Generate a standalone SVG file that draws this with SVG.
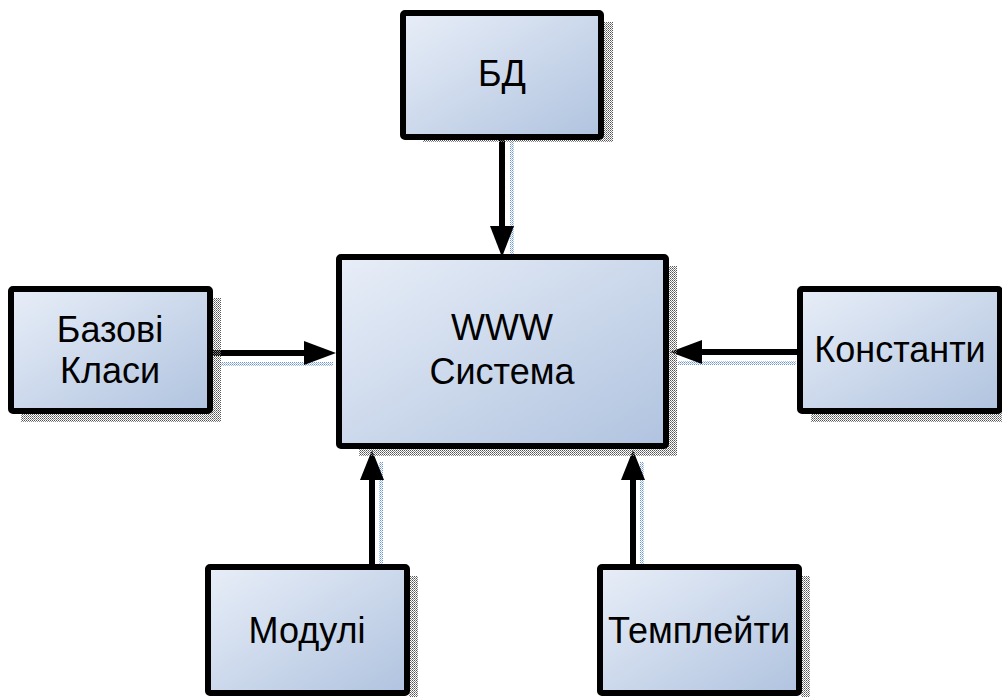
<svg xmlns="http://www.w3.org/2000/svg" width="1002" height="697" viewBox="0 0 1002 697">
<defs>
<linearGradient id="g" x1="0" y1="0" x2="1" y2="1">
<stop offset="0" stop-color="#e8eef8"/>
<stop offset="1" stop-color="#b0c3df"/>
</linearGradient>
<pattern id="dots" width="2" height="2" patternUnits="userSpaceOnUse">
<rect width="1" height="1" fill="#555"/>
<rect x="1" y="1" width="1" height="1" fill="#888"/>
</pattern>
<pattern id="bdots" width="2" height="2" patternUnits="userSpaceOnUse">
<rect width="1" height="1" fill="#6f96d2"/>
<rect x="1" y="1" width="1" height="1" fill="#a9c1e6"/>
</pattern>
</defs>
<style>
.box{fill:url(#g);stroke:#000;stroke-width:6;stroke-linejoin:round}
.sh{fill:url(#dots)}
.bsh{fill:url(#bdots)}
.lbl{font-family:"Liberation Sans",Arial,sans-serif;font-size:36px;fill:#000;text-anchor:middle}
.ln{stroke:#000;stroke-width:6;fill:none}
</style>
<g id="connectors">
<rect class="bsh" x="510" y="140" width="4" height="125"/>
<rect class="bsh" x="215" y="362" width="118" height="4"/>
<rect class="bsh" x="678" y="361" width="118" height="4"/>
<rect class="bsh" x="379" y="462" width="4" height="106"/>
<rect class="bsh" x="640" y="462" width="4" height="106"/>
<line class="ln" x1="502" y1="137" x2="502" y2="228"/>
<polygon points="490,226 514,226 502,257" fill="#000"/>
<line class="ln" x1="210" y1="353" x2="306" y2="353"/>
<polygon points="304,341 304,365 336,353" fill="#000"/>
<line class="ln" x1="800" y1="352" x2="700" y2="352"/>
<polygon points="702,340 702,364 670,352" fill="#000"/>
<line class="ln" x1="372" y1="567" x2="372" y2="478"/>
<polygon points="360,480 384,480 372,450" fill="#000"/>
<line class="ln" x1="633" y1="567" x2="633" y2="478"/>
<polygon points="621,480 645,480 633,450" fill="#000"/>
</g>
<g id="bd">
<path class="sh" d="M603,22 h10 v120 h-190 v-5 h180 z"/>
<rect class="box" x="403" y="13" width="198" height="124" rx="2"/>
<text class="lbl" x="502" y="86">БД</text>
</g>
<g id="www">
<path class="sh" d="M668,266 h9 v190 h-318 v-8 h309 z"/>
<rect class="box" x="339" y="257" width="327" height="189" rx="2"/>
<text class="lbl" x="502" y="340">WWW</text>
<text class="lbl" x="502" y="384">Система</text>
</g>
<g id="bazovi">
<path class="sh" d="M212,298 h9 v124 h-200 v-9 h191 z"/>
<rect class="box" x="11" y="289" width="199" height="122" rx="2"/>
<text class="lbl" x="110" y="342">Базові</text>
<text class="lbl" x="110" y="383">Класи</text>
</g>
<g id="konstanty">
<path class="sh" d="M1002,298 v124 h-191 v-9 h191 z"/>
<rect class="box" x="800" y="289" width="200" height="122" rx="2"/>
<text class="lbl" x="900" y="362">Константи</text>
</g>
<g id="moduli">
<path class="sh" d="M409,576 h9 v121 h-9 z"/>
<rect class="box" x="208" y="567" width="199" height="126" rx="2"/>
<text class="lbl" x="307" y="643">Модулі</text>
</g>
<g id="templeity">
<path class="sh" d="M801,576 h9 v121 h-9 z"/>
<rect class="box" x="600" y="567" width="199" height="126" rx="2"/>
<text class="lbl" x="699" y="643">Темплейти</text>
</g>
</svg>
